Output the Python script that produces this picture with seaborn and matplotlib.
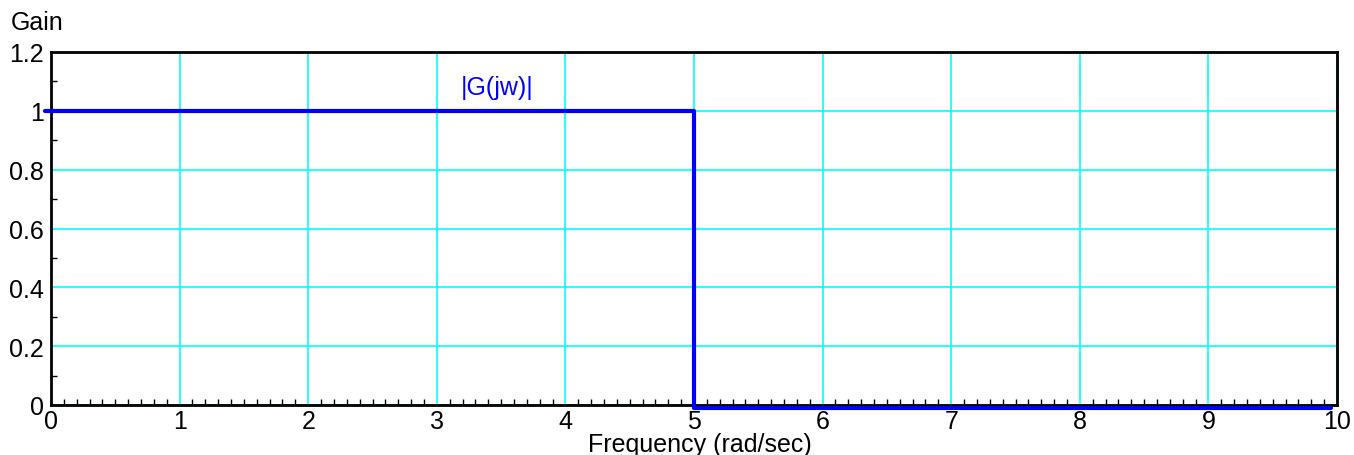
import matplotlib
matplotlib.use("Agg")
import matplotlib.pyplot as plt
import seaborn as sns
import pandas as pd
from matplotlib.ticker import MultipleLocator

# Data
frequency = [-0.05, 5.0, 5.0, 9.95]
gain = [1.0, 1.0, -0.01, -0.01]
x_ticks = [0, 1, 2, 3, 4, 5, 6, 7, 8, 9, 10]
y_ticks = [0, 0.2, 0.4, 0.6, 0.8, 1.0, 1.2]
y_tick_labels = ["0", "0.2", "0.4", "0.6", "0.8", "1", "1.2"]
curve_label = "|G(jw)|"

sns.set_theme(style="white")
plt.rcParams["font.family"] = ["Liberation Sans", "DejaVu Sans"]
plt.rcParams["text.color"] = "black"

df = pd.DataFrame({"Frequency": frequency, "Gain": gain})

fig = plt.figure(figsize=(13.54, 4.56), dpi=100)
ax = fig.add_axes([51 / 1354, 1 - 406 / 456, (1337 - 51) / 1354, (406 - 53) / 456])

sns.lineplot(data=df, x="Frequency", y="Gain", sort=False, estimator=None,
             color="#0000ff", linewidth=3, ax=ax, clip_on=False, zorder=5)

ax.set_xlim(0, 10)
ax.set_ylim(0, 1.2)
ax.set_xticks(x_ticks)
ax.set_xticklabels([str(t) for t in x_ticks])
ax.set_yticks(y_ticks)
ax.set_yticklabels(y_tick_labels)
ax.xaxis.set_minor_locator(MultipleLocator(0.1))
ax.yaxis.set_minor_locator(MultipleLocator(0.1))

ax.grid(True, which="major", color="#00ffff", linewidth=1.2)
ax.set_axisbelow(True)
for s in ax.spines.values():
    s.set_visible(True)
    s.set_color("black")
    s.set_linewidth(2)

ax.tick_params(which="both", direction="in", colors="black", labelsize=18,
               labelcolor="black", top=False, right=False, bottom=True, left=True)
ax.tick_params(which="major", length=0)
ax.tick_params(axis="x", which="major", pad=3)
ax.tick_params(axis="y", which="major", pad=5)
ax.tick_params(which="minor", length=4.5, width=1)

ax.set_xlabel("")
ax.set_ylabel("")

ax.text(3.47, 1.08, curve_label, color="#0000ff", fontsize=18, ha="center", va="center")

fig.text(11 / 1354, 1 - 30 / 456, "Gain", fontsize=18, color="black", ha="left", va="baseline")
fig.text(700 / 1354, 1 - 452 / 456, "Frequency (rad/sec)", fontsize=18, color="black",
         ha="center", va="baseline")

fig.savefig("out.png", dpi=100)
